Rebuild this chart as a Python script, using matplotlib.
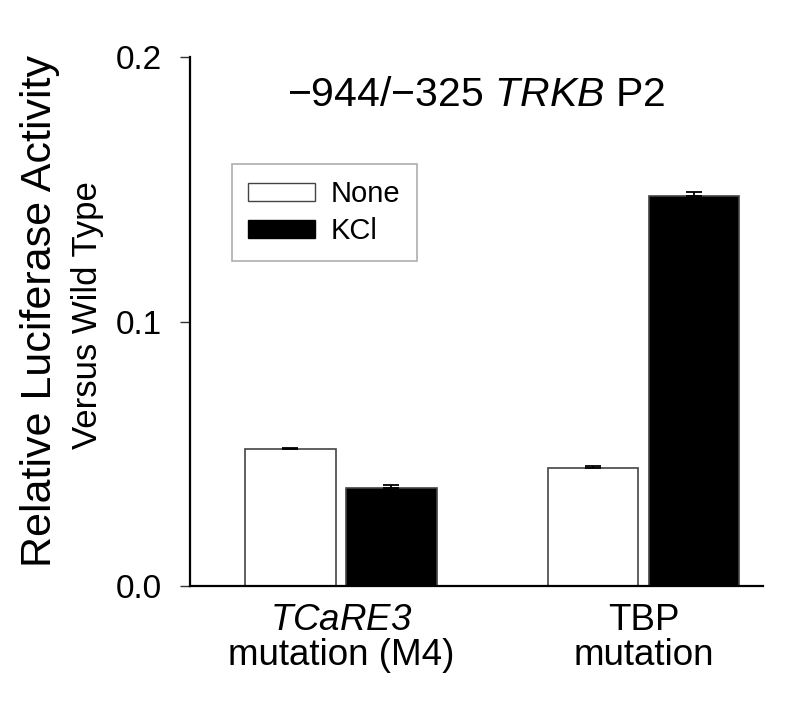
import numpy as np
import matplotlib
matplotlib.use("Agg")
import matplotlib.pyplot as plt
from matplotlib.patches import Patch

plt.rcParams['font.family'] = ['Liberation Sans', 'DejaVu Sans']
plt.rcParams['mathtext.fontset'] = 'custom'
plt.rcParams['mathtext.rm'] = 'Liberation Sans'
plt.rcParams['mathtext.it'] = 'Liberation Sans:italic'
plt.rcParams['mathtext.sf'] = 'Liberation Sans:italic'
plt.rcParams['mathtext.bf'] = 'Liberation Sans:bold'

categories = [r'$\mathsf{TCaRE3}$' + '\nmutation (M4)', 'TBP\nmutation']
series_names = ['None', 'KCl']
none_vals = [0.0517, 0.0445]
none_err = [0.0003, 0.0008]
kcl_vals = [0.0369, 0.1476]
kcl_err = [0.0013, 0.0015]
yticks = [0.0, 0.1, 0.2]
ytick_labels = ['0.0', '0.1', '0.2']
title = '\u2212944/\u2212325 ' + r'$\mathsf{TRKB}$' + ' P2'
ylabel1 = 'Relative Luciferase Activity'
ylabel2 = 'Versus Wild Type'

fig = plt.figure(figsize=(8, 7.1), dpi=100)
ax = fig.add_axes([190/800, 1-586/710, (763-190)/800, (586-57)/710])

x = np.arange(len(categories))
w = 0.30
off = 0.167
ax.bar(x - off, none_vals, w, color='white', edgecolor='#444444', linewidth=1.2,
       yerr=[np.zeros(len(x)), none_err], capsize=6,
       error_kw=dict(ecolor='black', elinewidth=1.3, capthick=1.3), label=series_names[0], zorder=2)
ax.bar(x + off, kcl_vals, w, color='black', edgecolor='#444444', linewidth=1.2,
       yerr=[np.zeros(len(x)), kcl_err], capsize=6,
       error_kw=dict(ecolor='black', elinewidth=1.3, capthick=1.3), label=series_names[1], zorder=2)

ax.set_xlim(-0.499, 1.395)
ax.set_ylim(0, 0.2)
ax.set_yticks(yticks)
ax.set_yticklabels(ytick_labels, fontsize=24)
ax.set_xticks(x)
ax.set_xticklabels(categories, fontsize=26.5, linespacing=1.0)
ax.tick_params(axis='x', length=0, pad=12)
ax.tick_params(axis='y', length=7, width=1.0, direction='out', pad=13, color='#333333')
for s in ['top', 'right']:
    ax.spines[s].set_visible(False)
for s in ['left', 'bottom']:
    ax.spines[s].set_linewidth(1.6)
    ax.spines[s].set_color('black')

ax.text(0.5, (586-106)/529, title, transform=ax.transAxes, ha='center', va='baseline', fontsize=29.5)

handles = [Patch(facecolor='white', edgecolor='#444444', linewidth=1.0),
           Patch(facecolor='black', edgecolor='black', linewidth=1.0)]
leg = ax.legend(handles, series_names, loc='upper left',
                bbox_to_anchor=((232-190)/573, (586-164)/529),
                fontsize=21, frameon=True, fancybox=False, edgecolor='#999999',
                handlelength=2.28, handleheight=0.55, handletextpad=0.55,
                borderpad=0.56, labelspacing=0.3, borderaxespad=0)
leg.get_frame().set_linewidth(1.2)

fig.text(40/800, 1-311/710, ylabel1, rotation=90, ha='center', va='center', fontsize=31)
fig.text(87/800, 1-315/710, ylabel2, rotation=90, ha='center', va='center', fontsize=25)

fig.savefig('out.png', dpi=100)
